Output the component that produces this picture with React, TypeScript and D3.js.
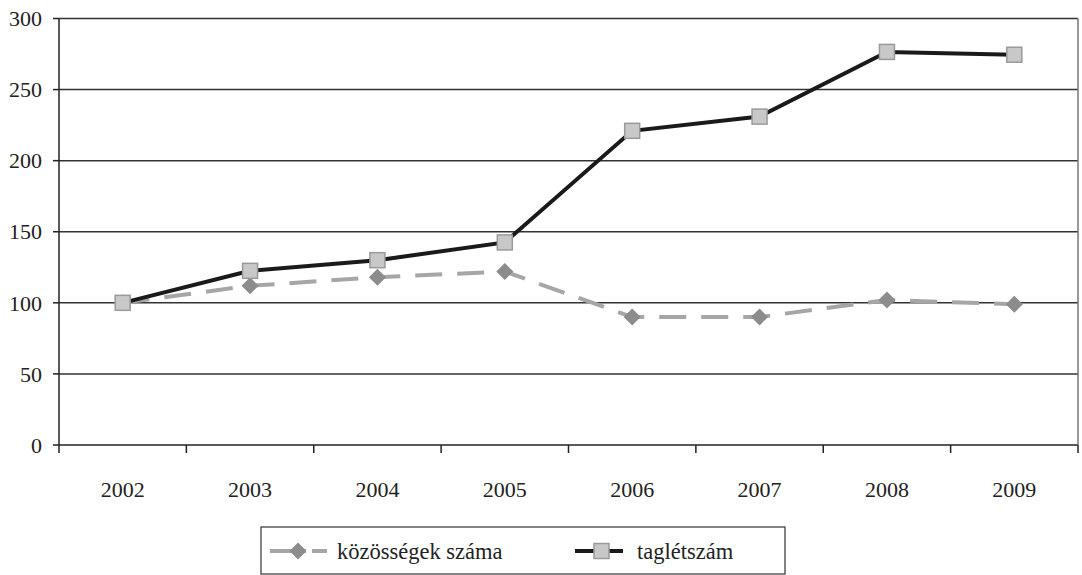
import React from "react";
import * as d3 from "d3";

const years = ["2002", "2003", "2004", "2005", "2006", "2007", "2008", "2009"];
const kozossegek = [100, 112, 118, 122, 90, 90, 102, 99];
const tagletszam = [100, 122.5, 130, 142.5, 221, 231, 276.5, 274.5];
const yTicks = [0, 50, 100, 150, 200, 250, 300];
const seriesNames = ["közösségek száma", "taglétszám"];

const W = 1082;
const H = 575;
const M = { left: 59, right: 1078, top: 18.5, bottom: 445 };
const FONT = "'Liberation Serif', 'Times New Roman', serif";

export default function App() {
  const x = d3.scaleBand<string>().domain(years).range([M.left, M.right]);
  const y = d3.scaleLinear().domain([0, 300]).range([M.bottom, M.top]);
  const cx = (d: string) => (x(d) ?? 0) + x.bandwidth() / 2;

  const line = d3
    .line<number>()
    .x((_, i) => cx(years[i]))
    .y((v) => y(v));

  const diamond = (px: number, py: number, r: number) =>
    `M${px},${py - r}L${px + r},${py}L${px},${py + r}L${px - r},${py}Z`;

  const boundaries = years.map((d) => x(d) ?? 0).concat([M.right]);

  return (
    <svg
      width={W}
      height={H}
      style={{ position: "absolute", left: 0, top: 0, display: "block" }}
      fontFamily={FONT}
    >
      <rect x={0} y={0} width={W} height={H} fill="#fff" />
      {yTicks.map((t) => (
        <g key={t}>
          <line x1={M.left} x2={M.right} y1={y(t)} y2={y(t)} stroke={t === 0 ? "#222" : "#333"} strokeWidth={1.5} />
          <line x1={M.left - 6} x2={M.left} y1={y(t)} y2={y(t)} stroke="#222" strokeWidth={1.5} />
          <text x={42} y={y(t)} dy="0.35em" textAnchor="end" fontSize={22} fill="#222">
            {t}
          </text>
        </g>
      ))}
      <line x1={M.right} x2={M.right} y1={M.top} y2={M.bottom} stroke="#777" strokeWidth={1.5} />
      <line x1={M.left} x2={M.left} y1={M.top} y2={M.bottom} stroke="#222" strokeWidth={1.5} />
      {boundaries.map((b, i) => (
        <line key={i} x1={b} x2={b} y1={M.bottom} y2={M.bottom + 8} stroke="#222" strokeWidth={1.5} />
      ))}
      {years.map((d) => (
        <text key={d} x={cx(d)} y={489} dy="0.35em" textAnchor="middle" fontSize={22} fill="#222">
          {d}
        </text>
      ))}
      <path d={line(kozossegek) ?? ""} fill="none" stroke="#a6a6a6" strokeWidth={4} strokeDasharray="27,15" />
      {kozossegek.map((v, i) => (
        <path key={i} d={diamond(cx(years[i]), y(v), 8.5)} fill="#8c8c8c" />
      ))}
      <path d={line(tagletszam) ?? ""} fill="none" stroke="#1a1a1a" strokeWidth={4} />
      {tagletszam.map((v, i) => (
        <rect
          key={i}
          x={cx(years[i]) - 7.5}
          y={y(v) - 7.5}
          width={15}
          height={15}
          fill="#c8c8c8"
          stroke="#9a9a9a"
          strokeWidth={1.5}
        />
      ))}
      <rect x={261} y={527} width={524} height={47} fill="#fff" stroke="#333" strokeWidth={1.2} />
      <line x1={270} x2={327} y1={551} y2={551} stroke="#a6a6a6" strokeWidth={4} strokeDasharray="36,6,20" />
      <path d={diamond(298, 551, 8.5)} fill="#8c8c8c" />
      <text x={337} y={551} dy="0.35em" fontSize={22.5} fill="#222">
        {seriesNames[0]}
      </text>
      <line x1={575} x2={623} y1={551} y2={551} stroke="#1a1a1a" strokeWidth={4} />
      <rect x={594} y={543.5} width={15} height={15} fill="#c8c8c8" stroke="#9a9a9a" strokeWidth={1.5} />
      <text x={637} y={551} dy="0.35em" fontSize={22.5} fill="#222">
        {seriesNames[1]}
      </text>
    </svg>
  );
}
